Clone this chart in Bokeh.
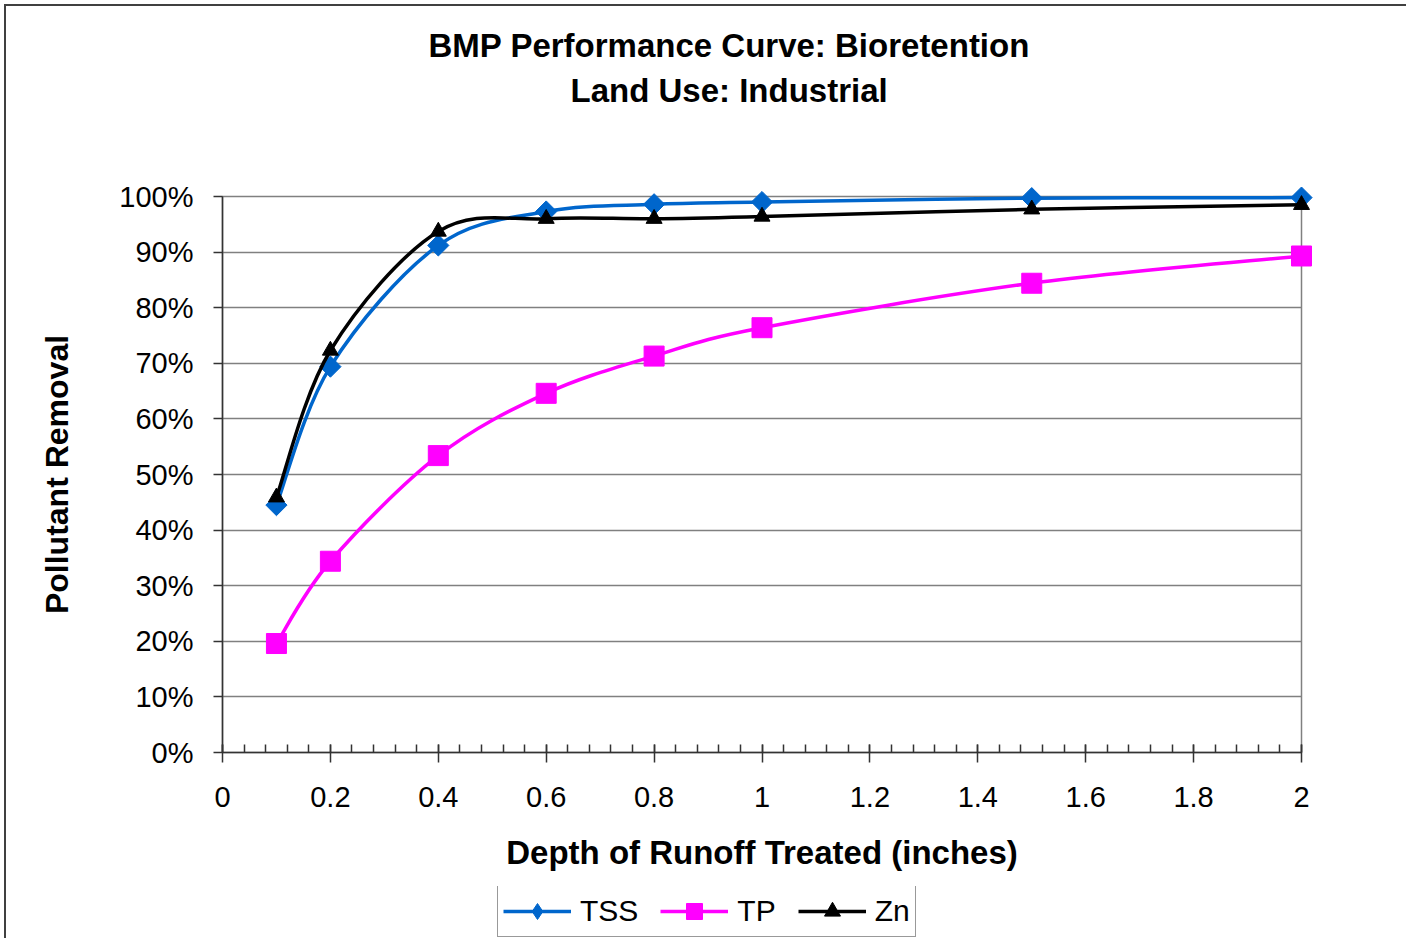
import numpy as np
from bokeh.plotting import figure
from bokeh.layouts import column
from bokeh.models import (ColumnDataSource, FixedTicker, NumeralTickFormatter,
                          Legend, LegendItem, Title, Range1d)
from bokeh.embed import file_html
from bokeh.resources import INLINE

# ---- data ----
depth = [0.1, 0.2, 0.4, 0.6, 0.8, 1.0, 1.5, 2.0]
tss = [0.445, 0.694, 0.912, 0.973, 0.986, 0.990, 0.997, 0.998]
tp = [0.196, 0.344, 0.534, 0.646, 0.713, 0.764, 0.844, 0.893]
zn = [0.459, 0.723, 0.937, 0.960, 0.960, 0.964, 0.977, 0.985]

series_names = ["TSS", "TP", "Zn"]
title_lines = ["BMP Performance Curve: Bioretention", "Land Use: Industrial"]
x_title = "Depth of Runoff Treated (inches)"
y_title = "Pollutant Removal"

x_ticks = [0, 0.2, 0.4, 0.6, 0.8, 1.0, 1.2, 1.4, 1.6, 1.8, 2.0]
y_ticks = [0, 0.1, 0.2, 0.3, 0.4, 0.5, 0.6, 0.7, 0.8, 0.9, 1.0]
x_minor = [round(i * 0.04, 2) for i in range(51)]

FONT = "Liberation Sans"


def smooth_source(xs, ys):
    """Bezier segments (Catmull-Rom style control points) through the data points."""
    n = len(xs)
    d = {k: [] for k in ("x0", "y0", "x1", "y1", "cx0", "cy0", "cx1", "cy1")}
    for i in range(n - 1):
        ip = max(i - 1, 0)
        inx = min(i + 2, n - 1)
        d["x0"].append(xs[i]); d["y0"].append(ys[i])
        d["x1"].append(xs[i + 1]); d["y1"].append(ys[i + 1])
        d["cx0"].append(xs[i] + (xs[i + 1] - xs[ip]) / 6.0)
        d["cy0"].append(ys[i] + (ys[i + 1] - ys[ip]) / 6.0)
        d["cx1"].append(xs[i + 1] - (xs[inx] - xs[i]) / 6.0)
        d["cy1"].append(ys[i + 1] - (ys[inx] - ys[i]) / 6.0)
    return ColumnDataSource(d)


p = figure(frame_width=1079, frame_height=556,
           x_range=Range1d(0, 2), y_range=Range1d(0, 1),
           output_backend="svg", toolbar_location=None,
           min_border_left=216, min_border_right=105,
           min_border_top=190, min_border_bottom=134)
p.background_fill_color = "white"
p.border_fill_color = "white"
p.outline_line_color = "#808080"
p.outline_line_width = 1.5

# axes
for ax in (p.xaxis[0], p.yaxis[0]):
    ax.axis_line_color = "#333333"
    ax.axis_line_width = 1.5
    ax.major_tick_line_color = "#333333"
    ax.major_tick_line_width = 1.5
    ax.major_label_text_font = FONT
    ax.major_label_text_font_size = "29px"
    ax.major_label_text_color = "black"
    ax.axis_label_text_font = FONT
    ax.axis_label_text_font_size = "32px"
    ax.axis_label_text_font_style = "bold"
    ax.axis_label_text_color = "black"

p.xaxis.ticker = FixedTicker(ticks=x_ticks, minor_ticks=x_minor)
p.xaxis.formatter = NumeralTickFormatter(format="0.[0]")
p.xaxis.major_tick_in = 8
p.xaxis.major_tick_out = 10
p.xaxis.minor_tick_in = 8
p.xaxis.minor_tick_out = 0
p.xaxis.minor_tick_line_color = "#333333"
p.xaxis.minor_tick_line_width = 1.5
p.xaxis.major_label_standoff = 24
p.xaxis.axis_label = x_title
p.xaxis.axis_label_standoff = 24
p.xaxis.axis_label_text_font_size = "33px"

p.yaxis.ticker = FixedTicker(ticks=y_ticks)
p.yaxis.formatter = NumeralTickFormatter(format="0%")
p.yaxis.major_tick_in = 0
p.yaxis.major_tick_out = 9
p.yaxis.minor_tick_line_color = None
p.yaxis.major_label_standoff = 20
p.yaxis.axis_label = y_title
p.yaxis.axis_label_standoff = 41

p.xgrid.grid_line_color = None
p.ygrid.ticker = FixedTicker(ticks=y_ticks)
p.ygrid.grid_line_color = "#808080"
p.ygrid.grid_line_width = 1.5

# legend strip (a second, axis-less figure directly under the chart)
pl = figure(width=1400, height=52, x_range=Range1d(10, 11), y_range=Range1d(0, 1),
            output_backend="svg", toolbar_location=None,
            x_axis_location=None, y_axis_location=None,
            min_border_left=0, min_border_right=0, min_border_top=0, min_border_bottom=0)
pl.outline_line_color = None
pl.grid.grid_line_color = None
pl.background_fill_color = "white"
pl.border_fill_color = "white"

# series
styles = [
    (tss, "#0066CC", dict(marker="square", angle=np.pi / 4, size=15), dict(marker="diamond", size=20)),
    (tp, "#FF00FF", dict(marker="square", size=20), dict(marker="square", size=20)),
    (zn, "#000000", dict(marker="triangle", size=16), dict(marker="triangle", size=16)),
]
items = []
for name, (vals, col, mk, mk_leg) in zip(series_names, styles):
    src = smooth_source(depth, vals)
    lr = p.bezier(x0="x0", y0="y0", x1="x1", y1="y1", cx0="cx0", cy0="cy0",
                  cx1="cx1", cy1="cy1", source=src, line_color=col, line_width=3.5,
                  line_cap="round")
    sr = p.scatter(depth, vals, fill_color=col, line_color=col, **mk)
    lr.level = "overlay"
    sr.level = "overlay"
    # same series in the legend strip (its x range keeps them out of view)
    lr2 = pl.line(depth, vals, line_color=col, line_width=3.5)
    sr2 = pl.scatter(depth, vals, fill_color=col, line_color=col, **mk_leg)
    items.append(LegendItem(label=name, renderers=[lr2, sr2]))

legend = Legend(items=items, orientation="horizontal", location=(275, 1),
                margin=0,
                label_text_font=FONT, label_text_font_size="30px",
                label_text_color="black", glyph_width=68, glyph_height=40,
                label_height=34, label_standoff=9, spacing=22, padding=5,
                border_line_color="#333333", border_line_width=1.5,
                background_fill_color="white", background_fill_alpha=1.0)
pl.add_layout(legend, "center")

# title (two lines) — items nearest the frame are added first
p.add_layout(Title(text=" ", text_font_size="2px", standoff=80), "above")
p.add_layout(Title(text=title_lines[1], align="left", offset=348,
                   vertical_align="bottom", standoff=8,
                   text_font=FONT, text_font_size="33px", text_font_style="bold",
                   text_color="black"), "above")
p.add_layout(Title(text=title_lines[0], align="left", offset=206,
                   vertical_align="bottom", standoff=4,
                   text_font=FONT, text_font_size="33px", text_font_style="bold",
                   text_color="black"), "above")

layout = column(p, pl, spacing=0)
layout.styles = {"margin-left": "4px", "margin-top": "4px",
                 "border-left": "2px solid #404040", "border-top": "2px solid #404040"}

open("out.html", "w").write(file_html(layout, INLINE))
